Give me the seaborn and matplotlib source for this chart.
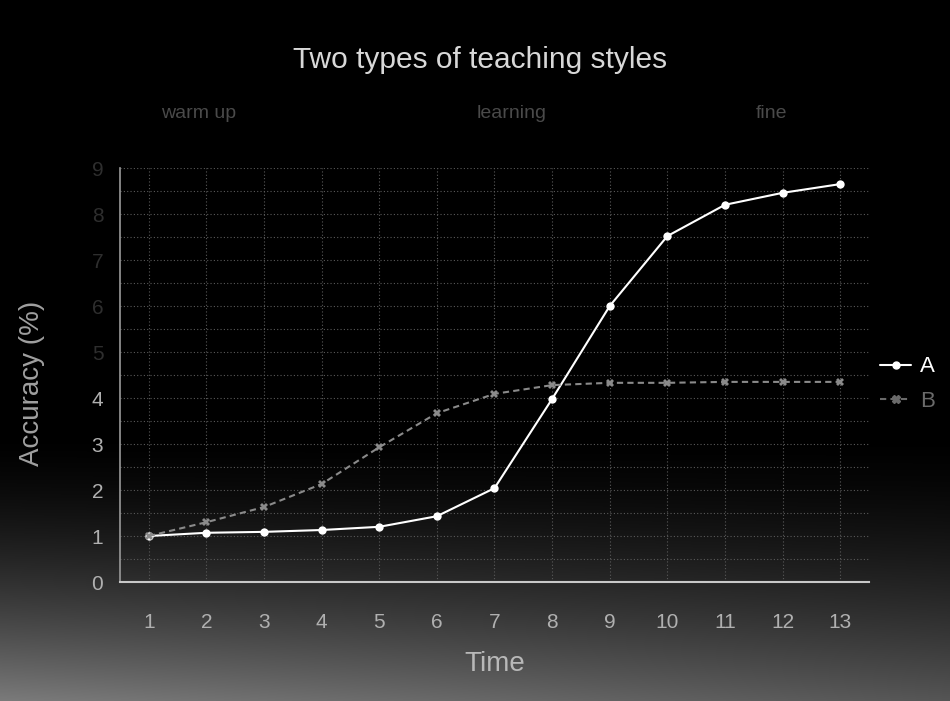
import numpy as np
import pandas as pd
import matplotlib
matplotlib.use("Agg")
import matplotlib.pyplot as plt
import matplotlib.transforms as mtransforms
from matplotlib.lines import Line2D
import seaborn as sns

# ---- data ----
time = list(range(1, 14))
series_a = [1.0, 1.07, 1.09, 1.13, 1.2, 1.43, 2.04, 3.98, 6.0, 7.52, 8.2, 8.46, 8.65]
series_b = [1.0, 1.3, 1.63, 2.13, 2.93, 3.67, 4.09, 4.28, 4.33, 4.33, 4.35, 4.35, 4.35]
series_names = ["A", "B"]
phase_labels = ["warm up", "learning", "fine"]
phase_pos = [1.87, 7.3, 11.8]
y_ticks = list(range(0, 10))

df = pd.DataFrame({
    "Time": time * 2,
    "value": series_a + series_b,
    "series": [series_names[0]] * len(time) + [series_names[1]] * len(time),
})

sns.set_theme(style="dark")
plt.rcParams["font.family"] = ["Liberation Sans", "DejaVu Sans"]

fig = plt.figure(figsize=(9.5, 7.01), dpi=100, facecolor="black")

# background lighting gradient (scan look)
h, w = 701, 950
yy, xx = np.mgrid[0:h, 0:w]
g = np.clip((yy - 430) / (h - 430), 0, 1) ** 1.6 * 0.42
g = g * (1.15 - 0.35 * xx / w)
bg = np.dstack([g, g, g])
fig.figimage(bg, xo=0, yo=0, origin="upper", zorder=-10)

ax = fig.add_axes([120 / 950, 1 - 582 / 701, (869 - 120) / 950, (582 - 168) / 701])
ax.set_facecolor("none")

palette = {"A": "#ffffff", "B": "#8a8a8a"}
sns.lineplot(data=df, x="Time", y="value", hue="series", style="series",
             palette=palette, markers={"A": "o", "B": "X"},
             dashes={"A": "", "B": (3, 2)}, markersize=6, linewidth=1.5,
             markeredgewidth=0, ax=ax, legend=False)

ax.set_xlim(0.5, 13.5)
ax.set_ylim(0, 9)
ax.set_xticks(time)
ax.set_yticks(y_ticks)
ax.set_xticklabels([str(t) for t in time], fontsize=15, color="#b0b0b0")
ax.set_yticklabels([str(t) for t in y_ticks], fontsize=15)
for lab, v in zip(ax.get_yticklabels(), y_ticks):
    lab.set_color("#b0b0b0" if v <= 4 else "#2e2e2e")
ax.tick_params(axis="x", length=0, pad=22)
ax.tick_params(axis="y", length=0, pad=12)

# grid
for xv in time:
    ax.axvline(xv, color="#5a5a5a", lw=0.8, ls=(0, (1, 2)), zorder=0)
for yv in np.arange(0.5, 9.01, 0.5):
    ax.axhline(yv, color="#5a5a5a", lw=0.8, ls=(0, (1, 2)), zorder=0)

for s in ["top", "right"]:
    ax.spines[s].set_visible(False)
ax.spines["bottom"].set_color("#c8c8c8")
ax.spines["bottom"].set_linewidth(1.5)
ax.spines["left"].set_color("#9a9a9a")
ax.spines["left"].set_linewidth(1.2)

# minor ticks at category boundaries on x axis
ax.set_xticks(np.arange(0.5, 13.6, 1.0), minor=True)
ax.tick_params(axis="x", which="minor", length=7, width=1.2, color="#c8c8c8", direction="out")
ax.set_yticks(np.arange(0, 9.1, 1), minor=True)
ax.tick_params(axis="y", which="minor", length=6, width=1, color="#9a9a9a", direction="inout")

ax.set_xlabel("Time", fontsize=20, color="#b8b8b8", labelpad=14)
ax.set_ylabel("Accuracy (%)", fontsize=20, color="#a0a0a0", labelpad=12)
ax.yaxis.set_label_coords(-0.1, 0.48)

fig.text(0.505, 1 - 60 / 701, "Two types of teaching styles", ha="center", va="center",
         fontsize=21.5, color="#d8d8d8")
trans = mtransforms.blended_transform_factory(ax.transData, fig.transFigure)
for lab, xp in zip(phase_labels, phase_pos):
    ax.text(xp, 1 - 113 / 701, lab, transform=trans,
            ha="center", va="center", fontsize=14, color="#4a4a4a")

# legend
handles = [Line2D([], [], color="#ffffff", marker="o", markersize=5, lw=1.5),
           Line2D([], [], color="#6a6a6a", marker="X", markersize=6, lw=1.5, ls=(0, (3, 2)))]
leg = fig.legend(handles, series_names, loc="center left", bbox_to_anchor=(878 / 950, 1 - 384 / 701),
                 frameon=False, fontsize=16, handlelength=1.4, handletextpad=0.4,
                 labelspacing=0.6, borderpad=0.1, borderaxespad=0.0)
leg.get_texts()[0].set_color("#ffffff")
leg.get_texts()[1].set_color("#6a6a6a")

fig.savefig("out.png", dpi=100, facecolor="black")
